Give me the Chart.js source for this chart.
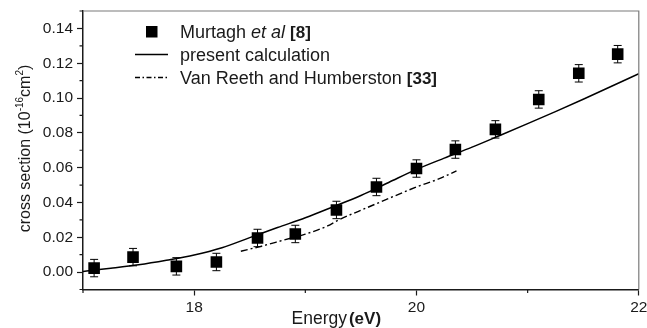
<!DOCTYPE html>
<html>
<head>
<meta charset="utf-8">
<script src="https://cdn.jsdelivr.net/npm/chart.js@4"></script>
<style>
  html, body { margin: 0; padding: 0; background: #fff; }
  #wrap { width: 647px; height: 328px; }
</style>
</head>
<body>
<div id="wrap"><canvas id="chart" width="647" height="328"></canvas></div>
<script>
// Murtagh et al [8] measurements
const energyExp = [17.1, 17.45, 17.84, 18.2, 18.57, 18.91, 19.28, 19.64, 20.0, 20.35, 20.71, 21.1, 21.46, 21.81];
const crossExp = [0.0023, 0.0086, 0.0033, 0.0058, 0.0196, 0.0219, 0.0357, 0.0489, 0.0595, 0.0704, 0.0820, 0.0992, 0.1142, 0.1252];
const errExp = [0.005, 0.005, 0.005, 0.005, 0.005, 0.005, 0.005, 0.005, 0.005, 0.005, 0.005, 0.005, 0.005, 0.005];

// present calculation
const energyCalc = [17.0, 17.25, 17.5, 17.75, 18.0, 18.25, 18.5, 18.75, 19.0, 19.25, 19.5, 19.75, 20.0, 20.25, 20.5, 20.75, 21.0, 21.25, 21.5, 21.75, 22.0];
const crossCalc = [0.0004, 0.0022, 0.0042, 0.0068, 0.0098, 0.0140, 0.0198, 0.0256, 0.0312, 0.0375, 0.0440, 0.0515, 0.0590, 0.0655, 0.0718, 0.0785, 0.0853, 0.0922, 0.0993, 0.1066, 0.1140];

// Van Reeth and Humberston [33]
const energyVR = [18.42, 18.6, 18.8, 19.0, 19.2, 19.3, 19.5, 19.75, 20.0, 20.2, 20.36];
const crossVR = [0.0120, 0.0148, 0.0183, 0.0218, 0.0265, 0.0300, 0.0355, 0.0423, 0.0489, 0.0535, 0.0581];

const xMajor = [18, 20, 22];
const xMinor = [17, 19, 21];
const yMajor = [0, 0.02, 0.04, 0.06, 0.08, 0.10, 0.12, 0.14];
const yMinor = [-0.01, 0.01, 0.03, 0.05, 0.07, 0.09, 0.11, 0.13, 0.15];

const FONT = "'Liberation Sans', Arial, sans-serif";
const INK = "#1a1a1a";

function toXY(xs, ys) {
    return xs.map((x, i) => ({ x: x, y: ys[i] }));
}

// draws error bars, minor ticks, frame, axis titles and legend
const extras = {
    id: "extras",
    beforeDatasetsDraw(chart) {
        const ctx = chart.ctx;
        const xs = chart.scales.x, ys = chart.scales.y;
        ctx.save();
        ctx.strokeStyle = "#000";
        ctx.lineWidth = 1;
        for (let i = 0; i < energyExp.length; i++) {
            const px = xs.getPixelForValue(energyExp[i]);
            const top = ys.getPixelForValue(crossExp[i] + errExp[i]);
            const bot = ys.getPixelForValue(crossExp[i] - errExp[i]);
            ctx.beginPath();
            ctx.moveTo(px, top); ctx.lineTo(px, bot);
            ctx.moveTo(px - 4, top); ctx.lineTo(px + 4, top);
            ctx.moveTo(px - 4, bot); ctx.lineTo(px + 4, bot);
            ctx.stroke();
        }
        ctx.restore();
    },
    afterDraw(chart) {
        const ctx = chart.ctx;
        const a = chart.chartArea;
        const xs = chart.scales.x, ys = chart.scales.y;
        ctx.save();

        // top and right frame
        ctx.strokeStyle = "#7a7a7a";
        ctx.lineWidth = 1.2;
        ctx.beginPath();
        ctx.moveTo(a.left, a.top); ctx.lineTo(a.right, a.top); ctx.lineTo(a.right, a.bottom);
        ctx.stroke();

        // minor ticks
        ctx.strokeStyle = INK;
        ctx.lineWidth = 1.2;
        ctx.beginPath();
        xMinor.forEach(v => {
            const p = xs.getPixelForValue(v);
            ctx.moveTo(p, a.bottom); ctx.lineTo(p, a.bottom + 3.5);
        });
        yMinor.forEach(v => {
            const p = ys.getPixelForValue(v);
            ctx.moveTo(a.left, p); ctx.lineTo(a.left - 3.5, p);
        });
        ctx.stroke();

        ctx.fillStyle = INK;
        ctx.textBaseline = "alphabetic";

        // x title
        ctx.textAlign = "left";
        ctx.font = "17.5px " + FONT;
        ctx.fillText("Energy", 291.5, 324);
        const wE = ctx.measureText("Energy").width;
        ctx.font = "bold 17px " + FONT;
        ctx.fillText("(eV)", 291.5 + wE + 2, 324);

        // y title, rotated
        ctx.save();
        ctx.translate(30, 148.5);
        ctx.rotate(-Math.PI / 2);
        const segs = [
            { t: "cross section (10", f: "16px " + FONT, dy: 0 },
            { t: "-16", f: "10px " + FONT, dy: -7.5 },
            { t: "cm", f: "16px " + FONT, dy: 0 },
            { t: "2", f: "10px " + FONT, dy: -7.5 },
            { t: ")", f: "16px " + FONT, dy: 0 }
        ];
        let total = 0;
        segs.forEach(s => { ctx.font = s.f; s.w = ctx.measureText(s.t).width; total += s.w; });
        let cx = -total / 2;
        segs.forEach(s => { ctx.font = s.f; ctx.fillText(s.t, cx, s.dy); cx += s.w; });
        ctx.restore();

        // legend
        const tx = 180;
        ctx.fillStyle = "#000";
        ctx.fillRect(146, 26, 11.5, 11.5);
        ctx.fillStyle = INK;
        let lx = tx;
        ctx.font = "18px " + FONT;
        ctx.fillText("Murtagh ", lx, 37.5); lx += ctx.measureText("Murtagh ").width;
        ctx.font = "italic 18px " + FONT;
        ctx.fillText("et al ", lx, 37.5); lx += ctx.measureText("et al ").width;
        ctx.font = "bold 17px " + FONT;
        ctx.fillText("[8]", lx, 37.5);

        ctx.font = "18px " + FONT;
        ctx.fillText("present calculation", tx, 60.5);
        ctx.fillText("Van Reeth and Humberston ", tx, 83.5);
        const wV = ctx.measureText("Van Reeth and Humberston ").width;
        ctx.font = "bold 17px " + FONT;
        ctx.fillText("[33]", tx + wV, 83.5);

        ctx.strokeStyle = "#000";
        ctx.lineWidth = 1.4;
        ctx.beginPath();
        ctx.moveTo(135, 54.5); ctx.lineTo(168, 54.5);
        ctx.stroke();
        ctx.setLineDash([5, 2.5, 1.5, 2.5]);
        ctx.beginPath();
        ctx.moveTo(135, 77.5); ctx.lineTo(168, 77.5);
        ctx.stroke();
        ctx.restore();
    }
};

new Chart(document.getElementById("chart"), {
    type: "scatter",
    data: {
        datasets: [
            {
                label: "present calculation",
                data: toXY(energyCalc, crossCalc),
                showLine: true,
                borderColor: "#000",
                borderWidth: 1.5,
                pointRadius: 0,
                cubicInterpolationMode: "monotone"
            },
            {
                label: "Van Reeth and Humberston [33]",
                data: toXY(energyVR, crossVR),
                showLine: true,
                borderColor: "#000",
                borderWidth: 1.4,
                borderDash: [7, 3, 2, 3],
                pointRadius: 0,
                cubicInterpolationMode: "monotone"
            },
            {
                label: "Murtagh et al [8]",
                data: toXY(energyExp, crossExp),
                pointStyle: "rect",
                pointRadius: 8.2,
                pointHoverRadius: 8.2,
                borderWidth: 0,
                backgroundColor: "#000",
                borderColor: "#000"
            }
        ]
    },
    options: {
        responsive: false,
        animation: false,
        events: [],
        layout: { padding: { left: 0, top: 11, right: 7.5, bottom: 0 } },
        plugins: { legend: { display: false }, tooltip: { enabled: false } },
        scales: {
            x: {
                type: "linear",
                min: 17,
                max: 22,
                afterBuildTicks: (scale) => { scale.ticks = xMajor.map(v => ({ value: v })); },
                afterFit: (scale) => { scale.height = 38.5; scale.paddingLeft = 0; scale.paddingRight = 0; },
                grid: { drawOnChartArea: false, drawTicks: true, tickLength: 6, tickColor: INK, tickWidth: 1.2 },
                border: { color: INK, width: 1.5 },
                ticks: {
                    color: INK,
                    padding: 3,
                    maxRotation: 0,
                    font: { family: FONT, size: 15.5 },
                    callback: (v) => String(v)
                }
            },
            y: {
                type: "linear",
                min: -0.01,
                max: 0.15,
                afterBuildTicks: (scale) => { scale.ticks = yMajor.map(v => ({ value: v })); },
                afterFit: (scale) => { scale.width = 83; scale.paddingTop = 0; scale.paddingBottom = 0; },
                grid: { drawOnChartArea: false, drawTicks: true, tickLength: 6, tickColor: INK, tickWidth: 1.2 },
                border: { color: INK, width: 1.5 },
                ticks: {
                    color: INK,
                    padding: 4,
                    font: { family: FONT, size: 15.5 },
                    callback: (v) => Number(v).toFixed(2)
                }
            }
        }
    },
    plugins: [extras]
});
</script>
</body>
</html>
